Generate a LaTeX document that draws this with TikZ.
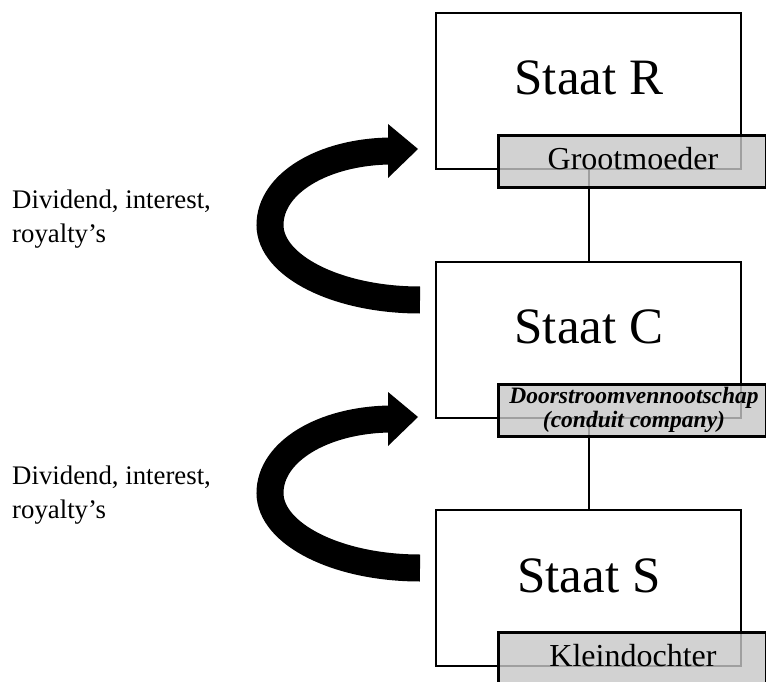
\documentclass[tikz,border=0pt]{standalone}
\usepackage{fontspec}
\setmainfont{Liberation Serif}
\definecolor{firmgrey}{RGB}{199,199,199}
\begin{document}
\begin{tikzpicture}[x=1pt,y=-1pt,
  staat/.style={draw, line width=2.4pt, minimum width=305pt, minimum height=156pt, inner sep=0pt, anchor=north west},
  firm/.style={draw, line width=2.6pt, fill=firmgrey, fill opacity=0.8, draw opacity=1, minimum width=268pt, minimum height=52pt, inner sep=0pt, anchor=north west},
  bigtext/.style={anchor=base, inner sep=0pt, font=\fontsize{51}{60}\selectfont},
  firmtext/.style={anchor=base, inner sep=0pt, font=\fontsize{32}{36}\selectfont},
  conduittext/.style={anchor=base, inner sep=0pt, align=center, font=\fontsize{23.5}{23.5}\selectfont\bfseries\itshape},
  flowtext/.style={anchor=base west, inner sep=0pt, align=left, font=\fontsize{26.8}{34}\selectfont},
  link/.style={line width=2pt},
  flowshaft/.style={line width=27pt},
  flow/.pic={
    \draw[flowshaft] (420,300) .. controls (337,300) and (270,266) .. (270,225)
                     .. controls (270,184) and (322,152) .. (390,151);
    \fill (388,124) -- (418,149) -- (388,178) -- cycle;
  }
]
\clip (0,0) rectangle (766,682);

% state boxes
\node[staat] (R) at (435,12) {};
\node[staat] (C) at (435,261) {};
\node[staat] (S) at (435,509) {};

% connectors
\draw[link] (R.south) -- (C.north);
\draw[link] (C.south) -- (S.north);

% company boxes
\node[firm] (gm) at (497,134) {};
\node[firm] (dv) at (497,383) {};
\node[firm, minimum height=70pt] (kd) at (497,631) {};

% texts
\node[bigtext] (tR) at (589,95) {Staat R};
\node[bigtext] (tC) at (589,343) {Staat C};
\node[bigtext] (tS) at (589,592) {Staat S};

\node[firmtext] (tgm) at (633,170) {Grootmoeder};
\node[conduittext] (tdv) at (634,427) {Doorstroomvennootschap\\(conduit company)};
\node[firmtext] (tkd) at (633,666) {Kleindochter};

\node[flowtext] (f1) at (12,242) {Dividend, interest,\\royalty’s};
\node[flowtext] (f2) at (12,518) {Dividend, interest,\\royalty’s};

% flows
\pic at (0,0) {flow};
\pic at (0,268) {flow};
\end{tikzpicture}
\end{document}
